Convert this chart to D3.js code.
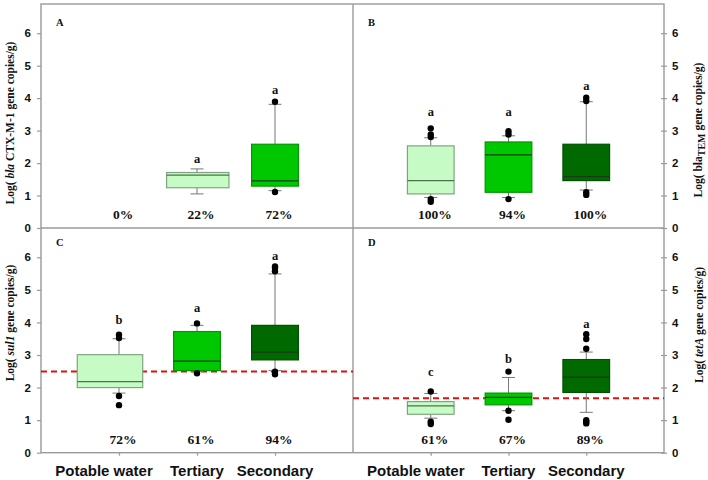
<!DOCTYPE html>
<html>
<head>
<meta charset="utf-8">
<script src="https://cdn.jsdelivr.net/npm/d3@7"></script>
<style>
    body { margin: 0; background: #fff; }
    .frame { fill: none; stroke: #9a9a9a; stroke-width: 1.4; }
    .tick-label { font-family: "Liberation Sans", Arial, sans-serif; font-weight: bold; font-size: 11.5px; fill: #111; }
    .serif { font-family: "Liberation Serif", "Times New Roman", serif; font-weight: bold; fill: #111; }
    .cat-label { font-family: "Liberation Sans", Arial, sans-serif; font-weight: bold; font-size: 15px; fill: #111; }
</style>
</head>
<body>
<div id="chart"></div>
<script>
// ---- data (log10 gene copies/g) ----
var categories = ["Potable water", "Tertiary", "Secondary"];
var panelIds = ["A", "B", "C", "D"];
var yTicks = [0, 1, 2, 3, 4, 5, 6];

// box stats: [whisker low, q1, median, q3, whisker high]
var statsA = [null, [1.05, 1.24, 1.63, 1.71, 1.82], [1.15, 1.29, 1.45, 2.58, 3.81]];
var statsB = [[0.94, 1.05, 1.46, 2.53, 2.78], [0.94, 1.10, 2.25, 2.65, 2.84], [1.17, 1.46, 1.58, 2.58, 3.89]];
var statsC = [[1.83, 2.00, 2.18, 3.01, 3.50], [2.49, 2.52, 2.81, 3.72, 3.91], [2.52, 2.85, 3.09, 3.91, 5.49]];
var statsD = [[1.06, 1.18, 1.44, 1.57, 1.82], [1.29, 1.47, 1.70, 1.83, 2.31], [1.24, 1.85, 2.32, 2.86, 3.09]];

var outliersA = [[], [], [3.89, 1.11]];
var outliersB = [[3.07, 2.88, 2.80, 0.89, 0.81], [2.98, 2.88, 0.89], [4.01, 3.91, 1.10, 1.02]];
var outliersC = [[3.62, 3.52, 1.74, 1.46], [3.97, 2.44], [5.72, 5.67, 5.57, 2.49, 2.41]];
var outliersD = [[1.88, 0.95, 0.88], [2.49, 1.29, 1.01], [3.64, 3.49, 3.19, 1.00, 0.95, 0.90]];

var lettersA = ["", "a", "a"];
var lettersB = ["a", "a", "a"];
var lettersC = ["b", "a", "a"];
var lettersD = ["c", "b", "a"];
var letterAtA = [null, 2.0, 4.14];
var letterAtB = [3.45, 3.45, 4.25];
var letterAtC = [3.95, 4.32, 5.93];
var letterAtD = [2.34, 2.75, 3.83];

var percentsA = ["0%", "22%", "72%"];
var percentsB = ["100%", "94%", "100%"];
var percentsC = ["72%", "61%", "94%"];
var percentsD = ["61%", "67%", "89%"];

var thresholdC = 2.49;
var thresholdD = 1.67;

// ---- layout / style ----
var width = 708, height = 480;
var X0 = 41, XMID = 353, X1 = 664;
var Y0 = 4, YMID = 228, Y1 = 452.7;
var Y_MAX = 6.9;
var BOX_HALF = 0.3;
var CAP_HALF = 6.5;
var LIGHT = "#c6fbc6", BRIGHT = "#00c800", DARK = "#006a00";

var panels = [
    {id: "A", col: 0, row: 0, stats: statsA, out: outliersA, letters: lettersA, letterAt: letterAtA,
        pct: percentsA, fills: [null, LIGHT, BRIGHT], boxSpan: {1: [-0.39, 0.41]}, thr: null},
    {id: "B", col: 1, row: 0, stats: statsB, out: outliersB, letters: lettersB, letterAt: letterAtB,
        pct: percentsB, fills: [LIGHT, BRIGHT, DARK], boxSpan: {}, thr: null},
    {id: "C", col: 0, row: 1, stats: statsC, out: outliersC, letters: lettersC, letterAt: letterAtC,
        pct: percentsC, fills: [LIGHT, BRIGHT, DARK], boxSpan: {0: [-0.535, 0.304]}, thr: thresholdC},
    {id: "D", col: 1, row: 1, stats: statsD, out: outliersD, letters: lettersD, letterAt: letterAtD,
        pct: percentsD, fills: [LIGHT, BRIGHT, DARK], boxSpan: {}, thr: thresholdD}
];

var xScales = [
    d3.scaleLinear().domain([0, 4]).range([X0, XMID]),
    d3.scaleLinear().domain([0, 4]).range([XMID, X1])
];
var yScales = [
    d3.scaleLinear().domain([0, Y_MAX]).range([YMID, Y0]),
    d3.scaleLinear().domain([0, Y_MAX]).range([Y1, YMID])
];

var svg = d3.select("#chart")
    .append("svg")
    .attr("width", width)
    .attr("height", height);

// y axes: left column on the left, right column on the right
yScales.forEach(function (y) {
    var gl = svg.append("g")
        .attr("transform", "translate(" + X0 + ",0)")
        .call(d3.axisLeft(y).tickValues(yTicks).tickSize(4).tickPadding(6).tickFormat(d3.format("d")));
    styleAxis(gl);

    var gr = svg.append("g")
        .attr("transform", "translate(" + X1 + ",0)")
        .call(d3.axisRight(y).tickValues(yTicks).tickSize(3).tickPadding(5).tickFormat(d3.format("d")));
    styleAxis(gr);
    gr.selectAll(".tick line").attr("x1", -3);
});

// x ticks under the bottom row
xScales.forEach(function (x) {
    var g = svg.append("g")
        .attr("transform", "translate(0," + Y1 + ")")
        .call(d3.axisBottom(x).tickValues([1, 2, 3]).tickSize(3).tickFormat(""));
    styleAxis(g);
});

function styleAxis(g) {
    g.select(".domain").remove();
    g.selectAll(".tick line").attr("stroke", "#9a9a9a").attr("stroke-width", 1.2);
    g.selectAll(".tick text").attr("class", "tick-label").attr("fill", null);
}

// frame
svg.append("rect").attr("class", "frame")
    .attr("x", X0).attr("y", Y0).attr("width", X1 - X0).attr("height", Y1 - Y0);
svg.append("line").attr("class", "frame")
    .attr("x1", X0).attr("x2", X1).attr("y1", YMID).attr("y2", YMID);
svg.append("line").attr("class", "frame")
    .attr("x1", XMID).attr("x2", XMID).attr("y1", Y0).attr("y2", Y1);

panels.forEach(function (p) {
    var x = xScales[p.col];
    var y = yScales[p.row];
    var g = svg.append("g").attr("class", "panel-" + p.id);

    // reference line
    if (p.thr !== null) {
        g.append("line")
            .attr("x1", x(0)).attr("x2", x(4))
            .attr("y1", y(p.thr)).attr("y2", y(p.thr))
            .attr("stroke", "#e01010")
            .attr("stroke-width", 2)
            .attr("stroke-dasharray", "6,4");
    }

    categories.forEach(function (c, i) {
        var s = p.stats[i];
        var cx = x(i + 1);

        if (s) {
            var span = p.boxSpan[i] || [-BOX_HALF, BOX_HALF];
            var bx0 = x(i + 1 + span[0]), bx1 = x(i + 1 + span[1]);
            var fill = p.fills[i];
            var stroke = fill === LIGHT ? "#7fa57f" : d3.color(fill).darker(0.8);

            // whiskers
            [[s[0], s[1]], [s[3], s[4]]].forEach(function (w) {
                g.append("line")
                    .attr("x1", cx).attr("x2", cx)
                    .attr("y1", y(w[0])).attr("y2", y(w[1]))
                    .attr("stroke", "#777").attr("stroke-width", 1);
            });
            [s[0], s[4]].forEach(function (v) {
                g.append("line")
                    .attr("x1", cx - CAP_HALF).attr("x2", cx + CAP_HALF)
                    .attr("y1", y(v)).attr("y2", y(v))
                    .attr("stroke", "#777").attr("stroke-width", 1);
            });

            g.append("rect")
                .attr("x", bx0).attr("width", bx1 - bx0)
                .attr("y", y(s[3])).attr("height", y(s[1]) - y(s[3]))
                .attr("fill", fill)
                .attr("stroke", stroke)
                .attr("stroke-width", 1.2);

            g.append("line")
                .attr("x1", bx0).attr("x2", bx1)
                .attr("y1", y(s[2])).attr("y2", y(s[2]))
                .attr("stroke", fill === LIGHT ? "#4f6f4f" : "#1a3a1a")
                .attr("stroke-width", 1.2);
        }

        g.selectAll(".out-" + i)
            .data(p.out[i])
            .enter().append("circle")
            .attr("cx", cx)
            .attr("cy", function (d) { return y(d); })
            .attr("r", 3.2)
            .attr("fill", "#000");

        if (p.letters[i]) {
            g.append("text")
                .attr("class", "serif")
                .attr("font-size", "12.5px")
                .attr("text-anchor", "middle")
                .attr("x", cx)
                .attr("y", y(p.letterAt[i]))
                .text(p.letters[i]);
        }

        g.append("text")
            .attr("class", "serif")
            .attr("font-size", "13.5px")
            .attr("text-anchor", "middle")
            .attr("x", cx + 4)
            .attr("y", y(0.27))
            .text(p.pct[i]);
    });

    // panel letter
    g.append("text")
        .attr("class", "serif")
        .attr("font-size", "10.5px")
        .attr("x", x(0) + 15)
        .attr("y", p.row === 0 ? Y0 + 22 : YMID + 17.5)
        .text(p.id);
});

// category labels
xScales.forEach(function (x) {
    svg.selectAll(null)
        .data(categories)
        .enter().append("text")
        .attr("class", "cat-label")
        .attr("text-anchor", "middle")
        .attr("x", function (d, i) { return x(i + 1) + (i === 0 ? -15 : 0); })
        .attr("y", 476)
        .text(function (d) { return d; });
});

// y axis titles (rotated, reading bottom to top)
function axisTitle(tx, ty, parts) {
    var t = svg.append("text")
        .attr("class", "serif")
        .attr("font-size", "11.5px")
        .attr("text-anchor", "middle")
        .attr("transform", "translate(" + tx + "," + ty + ") rotate(-90)");
    parts.forEach(function (p) {
        var span = t.append("tspan").text(p.t);
        if (p.i) span.attr("font-style", "italic");
        if (p.sub) span.attr("dy", 2.5).attr("font-size", "10px");
        if (p.after) span.attr("dy", -2.5);
    });
}

axisTitle(14, 123, [{t: "Log( "}, {t: "bla", i: true}, {t: " CTX-M-1 gene copies/g)"}]);
axisTitle(14, 323, [{t: "Log( "}, {t: "sul1", i: true}, {t: " gene copies/g)"}]);
axisTitle(702, 130, [{t: "Log( bla"}, {t: "TEM", sub: true}, {t: " gene copies/g)", after: true}]);
axisTitle(703, 325, [{t: "Log( "}, {t: "tetA", i: true}, {t: " gene copies/g)"}]);
</script>
</body>
</html>
